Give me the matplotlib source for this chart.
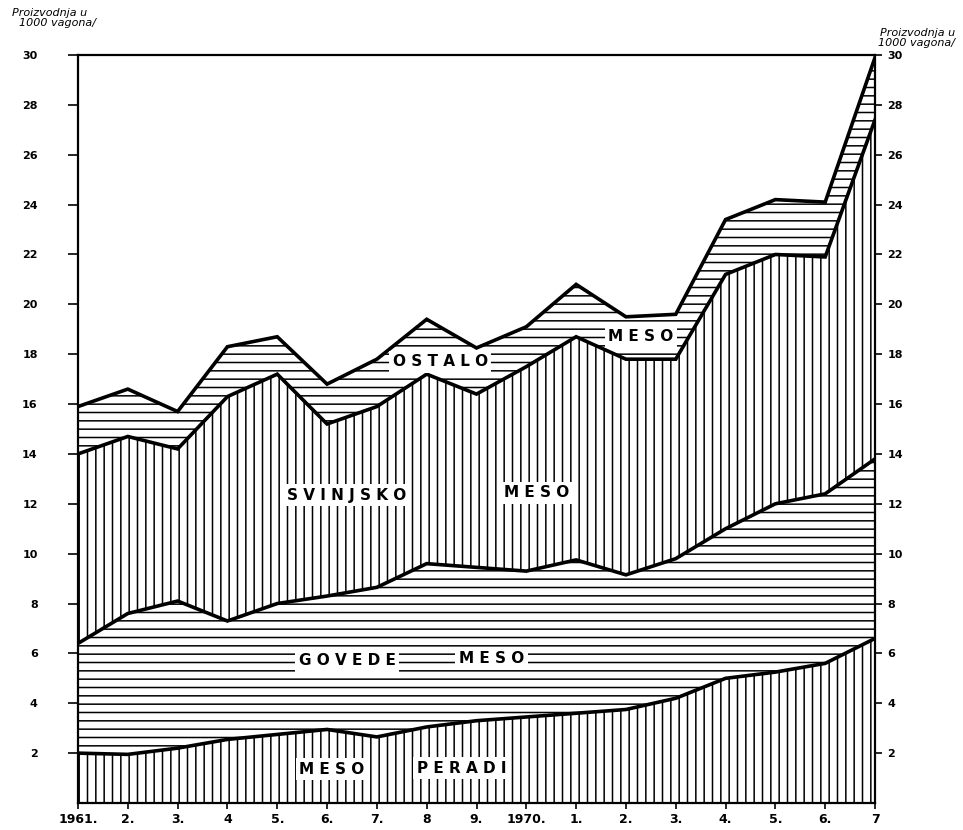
import matplotlib
matplotlib.use("Agg")
import matplotlib.pyplot as plt
import numpy as np

# ---- data (thousand wagons) ----
years = [1961, 1962, 1963, 1964, 1965, 1966, 1967, 1968, 1969,
         1970, 1971, 1972, 1973, 1974, 1975, 1976, 1977]
year_labels = ["1961.", "2.", "3.", "4", "5.", "6.", "7.", "8", "9.",
               "1970.", "1.", "2.", "3.", "4.", "5.", "6.", "7"]
meso_peradi = [2.0, 1.95, 2.2, 2.55, 2.75, 2.95, 2.65, 3.05, 3.3,
               3.45, 3.6, 3.75, 4.2, 5.0, 5.25, 5.6, 6.6]
govede_meso = [4.4, 5.65, 5.9, 4.75, 5.25, 5.35, 6.0, 6.55, 6.15,
               5.85, 6.15, 5.4, 5.6, 6.0, 6.75, 6.8, 7.2]
svinjsko_meso = [7.6, 7.1, 6.1, 9.0, 9.2, 6.9, 7.25, 7.6, 6.95,
                 8.2, 8.95, 8.65, 8.0, 10.2, 10.0, 9.5, 13.6]
ostalo_meso = [1.9, 1.9, 1.5, 2.0, 1.5, 1.6, 1.9, 2.2, 1.85,
               1.6, 2.1, 1.7, 1.8, 2.2, 2.2, 2.2, 2.5]
y_ticks = list(range(2, 31, 2))

plt.rcParams['hatch.linewidth'] = 1.1
fig = plt.figure(figsize=(9.63, 8.3), dpi=100)
ax = fig.add_axes([78/963, 1-803/830, (875-78)/963, (803-55)/830])

x = np.array(years, dtype=float)
series = [meso_peradi, govede_meso, svinjsko_meso, ostalo_meso]
hatches = ['||', '--', '||', '--']
base = np.zeros(len(x))
for vals, h in zip(series, hatches):
    top = base + np.array(vals)
    ax.fill_between(x, base, top, facecolor='white', edgecolor='black',
                    hatch=h, linewidth=0)
    ax.plot(x, top, color='black', linewidth=2.6, solid_joinstyle='miter')
    base = top

ax.set_xlim(1961, 1977)
ax.set_ylim(0, 30)
for s in ax.spines.values():
    s.set_linewidth(1.6)

ax.set_yticks(y_ticks)
ax.set_yticklabels([str(v) for v in y_ticks], fontsize=8, fontweight='bold')
ax.tick_params(axis='y', left=True, right=False, direction='out',
               length=7, width=1.2, pad=22)

axr = ax.twinx()
axr.set_ylim(0, 30)
axr.set_yticks(y_ticks)
axr.set_yticklabels([str(v) for v in y_ticks], fontsize=8, fontweight='bold')
axr.tick_params(axis='y', direction='out', length=5, width=1.2, pad=4)
for s in axr.spines.values():
    s.set_visible(False)

ax.set_xticks(years)
ax.set_xticklabels(year_labels, fontsize=9, fontweight='bold')
ax.tick_params(axis='x', direction='out', length=4, width=1.2, pad=3)

lab = dict(fontsize=11, fontweight='bold', ha='center', va='center',
           bbox=dict(facecolor='white', edgecolor='none', pad=2.5))
ax.text(1968.27, 17.7, "O S T A L O", **lab)
ax.text(1972.3, 18.7, "M E S O", **lab)
ax.text(1966.4, 12.35, "S V I N J S K O", **lab)
ax.text(1970.2, 12.45, "M E S O", **lab)
ax.text(1966.4, 5.7, "G O V E D E", **lab)
ax.text(1969.3, 5.8, "M E S O", **lab)
ax.text(1966.1, 1.35, "M E S O", **lab)
ax.text(1968.7, 1.4, "P E R A D I", **lab)

fig.text(12/963, 1-8/830, "Proizvodnja u\n  1000 vagona/", fontsize=8,
         fontstyle='italic', ha='left', va='top', linespacing=0.95)
fig.text(955/963, 1-28/830, "Proizvodnja u\n1000 vagona/", fontsize=8,
         fontstyle='italic', ha='right', va='top', linespacing=0.95)

fig.savefig("out.png", dpi=100, facecolor='white')
